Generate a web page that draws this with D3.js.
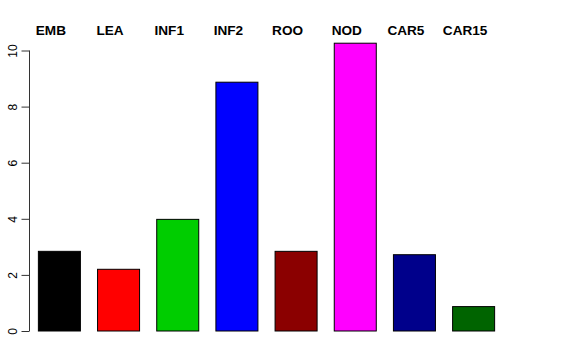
<!DOCTYPE html>
<html>
<head>
<meta charset="utf-8">
<style>
  body { margin: 0; background: #fff; }
  text { font-family: "Liberation Sans", Arial, sans-serif; }
</style>
</head>
<body>
<script src="https://d3js.org/d3.v7.min.js"></script>
<script>
// data
const categories = ["EMB", "LEA", "INF1", "INF2", "ROO", "NOD", "CAR5", "CAR15"];
const values = [2.84, 2.2, 3.98, 8.87, 2.84, 10.26, 2.72, 0.87];
const colors = ["#000000", "#ff0000", "#00cd00", "#0000ff", "#8b0000", "#ff00ff", "#00008b", "#006400"];
const yTicks = [0, 2, 4, 6, 8, 10];

const width = 576, height = 360;

const svg = d3.select("body").append("svg")
  .attr("width", width)
  .attr("height", height);

const x = d3.scaleBand()
  .domain(categories)
  .range([29, 503])
  .paddingInner(0.29)
  .paddingOuter(0.15);

const y = d3.scaleLinear()
  .domain([0, 10])
  .range([331, 50.5]);

// bars
svg.selectAll("rect.bar")
  .data(values)
  .join("rect")
  .attr("class", "bar")
  .attr("x", (d, i) => x(categories[i]) + 0.5)
  .attr("y", d => y(d))
  .attr("width", x.bandwidth())
  .attr("height", d => y(0) - y(d))
  .attr("fill", (d, i) => colors[i])
  .attr("stroke", "#000")
  .attr("stroke-width", 1);

// y axis
const yAxis = svg.append("g")
  .attr("transform", "translate(29.5,0)")
  .call(d3.axisLeft(y).tickValues(yTicks).tickSize(8).tickSizeOuter(0));
yAxis.select(".domain").attr("stroke", "#333").attr("d", `M0,${y(0)}V${y(10)}`);
yAxis.selectAll(".tick line").attr("stroke", "#333");
yAxis.selectAll(".tick text")
  .attr("font-size", 12)
  .attr("font-family", "'Liberation Sans', Arial, sans-serif")
  .attr("fill", "#000")
  .attr("text-anchor", "middle")
  .attr("transform", "rotate(-90)")
  .attr("x", 0)
  .attr("y", -13)
  .attr("dy", 0);

// category labels on top
svg.selectAll("text.cat")
  .data(categories)
  .join("text")
  .attr("class", "cat")
  .attr("x", d => x(d) + x.bandwidth() / 2 - 8)
  .attr("y", 35)
  .attr("text-anchor", "middle")
  .attr("font-size", 13.6)
  .attr("font-weight", "bold")
  .text(d => d);
</script>
</body>
</html>
